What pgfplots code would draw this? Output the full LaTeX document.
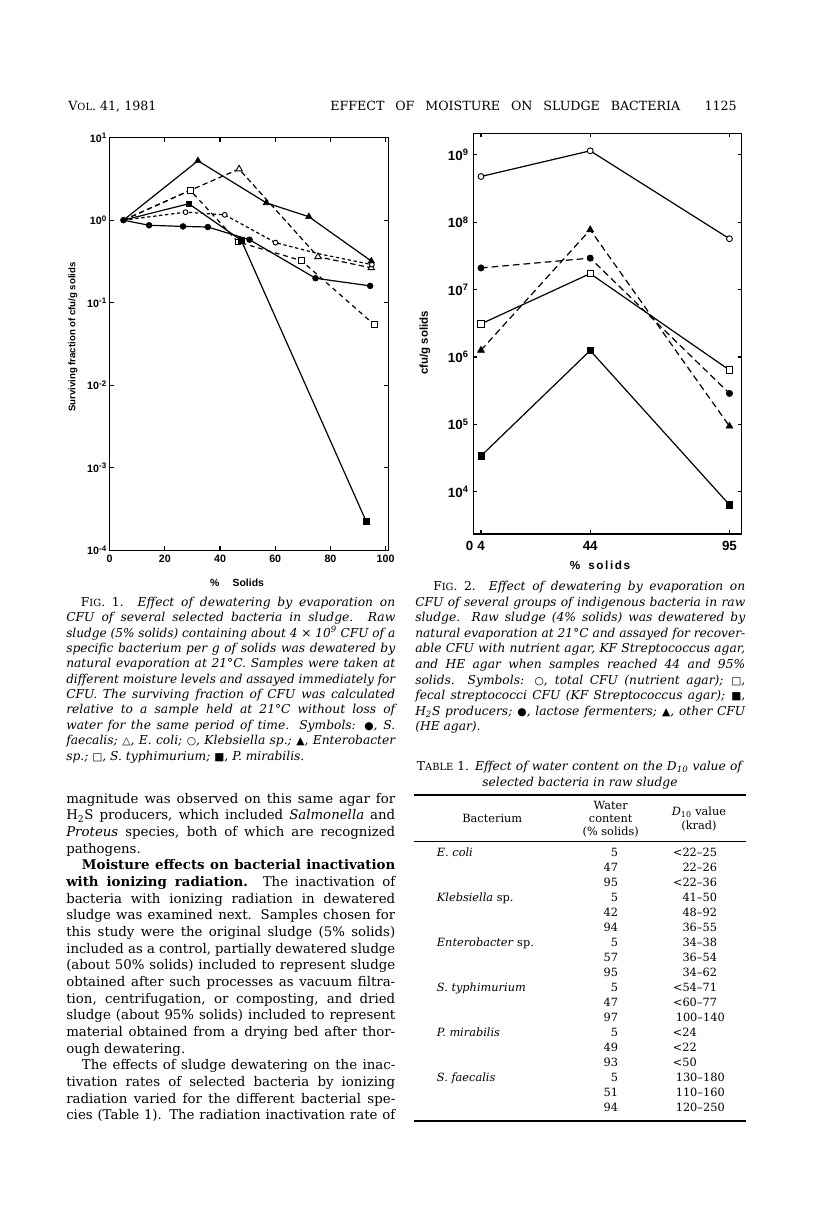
\documentclass[border=0pt]{standalone}
\usepackage{fontspec}
\setmainfont{DejaVu Serif}
\newfontfamily\axfont{Liberation Sans}
\newfontfamily\symfont{DejaVu Sans}
\usepackage{graphicx}
\usepackage{pgfplots}
\pgfplotsset{compat=1.18}

\newsavebox\lbox
\newcommand\jl[2]{\sbox\lbox{#2}\ifdim\wd\lbox>#1\relax\pgfmathparse{(#1)/(\the\wd\lbox)}\scalebox{\pgfmathresult}[1]{\usebox\lbox}\else\makebox[#1][s]{#2}\fi}
\newcommand\sym[1]{{\symfont\upshape\fontsize{8}{8}\selectfont #1}}
\newcommand\cf{\fontsize{9.2}{11}\selectfont\itshape}
\newcommand\bodyf{\fontsize{10}{12}\selectfont}
\newcommand\hdr{\fontsize{9.5}{11}\selectfont}
\newcommand\tabf{\fontsize{8.5}{10}\selectfont}
\newcommand\smc[1]{{\fontsize{7.4}{9}\selectfont #1}}

\pgfplotsset{
  myax/.style={
    scale only axis, anchor=south west,
    axis line style={line width=1.1pt},
    tick style={line width=0.8pt,black},
    tick align=inside, major tick length=3pt,
    yminorticks=false, xminorticks=false,
    clip=false,
  },
  sl/.style={black, line width=0.9pt},
  ds/.style={black, line width=0.9pt, dash pattern=on 4pt off 2.5pt},
}

\begin{document}
\begin{tikzpicture}
\path[use as bounding box] (0,0) rectangle (612pt,-908.25pt);
\begin{scope}[x=0.75pt,y=-0.75pt]
% header
\node[anchor=base west,inner sep=0pt,font=\hdr] at (68,110) {V\smc{OL}. 41, 1981};
\node[anchor=base west,inner sep=0pt,font=\hdr] at (330,110) {\jl{262.5pt}{EFFECT OF MOISTURE ON SLUDGE BACTERIA}};
\node[anchor=base east,inner sep=0pt,font=\hdr] at (737,110) {1125};

% fig 1 labels
\node[rotate=90,font=\axfont\bfseries\fontsize{7.2}{7}\selectfont] at (73,337) {Surviving fraction of cfu/g solids};
\node[font=\axfont\bfseries\fontsize{7.8}{8}\selectfont] at (237,583) {\%\hspace{10pt}Solids};
% fig 2 labels
\node[rotate=90,font=\axfont\bfseries\fontsize{8.6}{9}\selectfont] at (425,343) {cfu/g solids};
\node[font=\axfont\bfseries\fontsize{8.8}{9}\selectfont] at (600,565) {\%\hspace{6pt}s\hspace{1.2pt}o\hspace{1.2pt}l\hspace{1.2pt}i\hspace{1.2pt}d\hspace{1.2pt}s};

% fig 1 caption
\begin{scope}[every node/.style={anchor=base west,inner sep=0pt,font=\cf}]
\node at (80.7,606.3) {\jl{235.7pt}{{\upshape F\smc{IG}. 1.} Effect of dewatering by evaporation on}};
\node at (66,621.7) {\jl{246.75pt}{CFU of several selected bacteria in sludge. Raw}};
\node at (66,637.1) {\jl{246.75pt}{sludge (5\% solids) containing about 4 × 10\textsuperscript{9} CFU of a}};
\node at (66,652.4) {\jl{246.75pt}{specific bacterium per g of solids was dewatered by}};
\node at (66,667.8) {\jl{246.75pt}{natural evaporation at 21°C. Samples were taken at}};
\node at (66,683.2) {\jl{246.75pt}{different moisture levels and assayed immediately for}};
\node at (66,698.5) {\jl{246.75pt}{CFU. The surviving fraction of CFU was calculated}};
\node at (66,713.9) {\jl{246.75pt}{relative to a sample held at 21°C without loss of}};
\node at (66,729.3) {\jl{246.75pt}{water for the same period of time. Symbols: \sym{●}, S.}};
\node at (66,744.6) {\jl{246.75pt}{faecalis; \sym{△}, E. coli; \sym{○}, Klebsiella sp.; \sym{▲}, Enterobacter}};
\node at (66,760.0) {sp.; \sym{□}, S. typhimurium; \sym{■}, P. mirabilis.};
% fig 2 caption
\node at (433,590.7) {\jl{234pt}{{\upshape F\smc{IG}. 2.} Effect of dewatering by evaporation on}};
\node at (415,606.3) {\jl{247.5pt}{CFU of several groups of indigenous bacteria in raw}};
\node at (415,621.8) {\jl{247.5pt}{sludge. Raw sludge (4\% solids) was dewatered by}};
\node at (415,637.4) {\jl{247.5pt}{natural evaporation at 21°C and assayed for recover-}};
\node at (415,652.9) {\jl{247.5pt}{able CFU with nutrient agar, KF Streptococcus agar,}};
\node at (415,668.5) {\jl{247.5pt}{and HE agar when samples reached 44 and 95\%}};
\node at (415,684.1) {\jl{247.5pt}{solids. Symbols: \sym{○}, total CFU (nutrient agar); \sym{□},}};
\node at (415,699.6) {\jl{247.5pt}{fecal streptococci CFU (KF Streptococcus agar); \sym{■},}};
\node at (415,715.2) {\jl{247.5pt}{H\textsubscript{2}S producers; \sym{●}, lactose fermenters; \sym{▲}, other CFU}};
\node at (415,730.7) {(HE agar).};
% table title
\node at (416.7,770.7) {\jl{243.75pt}{{\upshape T\smc{ABLE} 1.} Effect of water content on the D\textsubscript{10} value of}};
\node[anchor=base] at (580,786.3) {selected bacteria in raw sludge};
\end{scope}

% table
\draw[line width=1.2pt] (414,795) -- (745.7,795);
\draw[line width=0.8pt] (414,841.7) -- (745.7,841.7);
\draw[line width=1.2pt] (414,1121) -- (745.7,1121);
\begin{scope}[every node/.style={inner sep=0pt,font=\tabf}]
\node[anchor=base] at (492.3,822.3) {Bacterium};
\node[anchor=base] at (610.7,809) {Water};
\node[anchor=base] at (610.7,822.3) {content};
\node[anchor=base] at (610.7,835.7) {(\% solids)};
\node[anchor=base] at (699,815.7) {\textit{D}\textsubscript{10} value};
\node[anchor=base] at (699,829) {(krad)};
% names
\node[anchor=base west] at (436.7,856.7) {\textit{E. coli}};
\node[anchor=base west] at (436.7,901.7) {\textit{Klebsiella} sp.};
\node[anchor=base west] at (436.7,946.7) {\textit{Enterobacter} sp.};
\node[anchor=base west] at (436.7,991.7) {\textit{S. typhimurium}};
\node[anchor=base west] at (436.7,1036.7) {\textit{P. mirabilis}};
\node[anchor=base west] at (436.7,1081.7) {\textit{S. faecalis}};
% water content
\foreach \v [count=\i from 0] in {5,47,95,5,42,94,5,57,95,5,47,97,5,49,93,5,51,94}
  \node[anchor=base east] at (618.3,856.7+15*\i) {\v};
% D10 ranges
\foreach \v/\i in {<22--25/0,22--26/1,<22--36/2,41--50/3,48--92/4,36--55/5,34--38/6,36--54/7,34--62/8,<54--71/9,<60--77/10}
  \node[anchor=base east] at (717.3,856.7+15*\i) {\v};
\foreach \v/\i in {100--140/11,130--180/15,110--160/16,120--250/17}
  \node[anchor=base east] at (725,856.7+15*\i) {\v};
\foreach \v/\i in {<24/12,<22/13,<50/14}
  \node[anchor=base west] at (672.7,856.7+15*\i) {\v};
\end{scope}

% body text
\begin{scope}[every node/.style={anchor=base west,inner sep=0pt,font=\bodyf}]
\node at (66,803.3) {\jl{246.75pt}{magnitude was observed on this same agar for}};
\node at (66,819.95) {\jl{246.75pt}{H\textsubscript{2}S producers, which included \textit{Salmonella} and}};
\node at (66,836.6) {\jl{246.75pt}{\textit{Proteus} species, both of which are recognized}};
\node at (66,853.25) {pathogens.};
\node at (81.7,869.9) {\jl{235pt}{\bfseries Moisture effects on bacterial inactivation}};
\node at (66,886.55) {\jl{246.75pt}{\textbf{with ionizing radiation.} The inactivation of}};
\node at (66,903.2) {\jl{246.75pt}{bacteria with ionizing radiation in dewatered}};
\node at (66,919.85) {\jl{246.75pt}{sludge was examined next. Samples chosen for}};
\node at (66,936.5) {\jl{246.75pt}{this study were the original sludge (5\% solids)}};
\node at (66,953.15) {\jl{246.75pt}{included as a control, partially dewatered sludge}};
\node at (66,969.8) {\jl{246.75pt}{(about 50\% solids) included to represent sludge}};
\node at (66,986.45) {\jl{246.75pt}{obtained after such processes as vacuum filtra-}};
\node at (66,1003.1) {\jl{246.75pt}{tion, centrifugation, or composting, and dried}};
\node at (66,1019.75) {\jl{246.75pt}{sludge (about 95\% solids) included to represent}};
\node at (66,1036.4) {\jl{246.75pt}{material obtained from a drying bed after thor-}};
\node at (66,1053.05) {ough dewatering.};
\node at (81.7,1069.7) {\jl{235pt}{The effects of sludge dewatering on the inac-}};
\node at (66,1086.35) {\jl{246.75pt}{tivation rates of selected bacteria by ionizing}};
\node at (66,1103.0) {\jl{246.75pt}{radiation varied for the different bacterial spe-}};
\node at (66,1119.65) {\jl{246.75pt}{cies (Table 1). The radiation inactivation rate of}};
\end{scope}
\end{scope}

% ---------------- Fig 1 ----------------
\begin{axis}[myax, at={(82.2pt,-412.8pt)}, width=209.1pt, height=309.6pt,
  ymode=log, xmin=0, xmax=101, ymin=1e-4, ymax=10,
  xtick={0,20,40,60,80,100}, xticklabels={0,20,40,60,80,100},
  ytick={1e-4,1e-3,1e-2,1e-1,1,10},
  yticklabels={10\textsuperscript{-4},10\textsuperscript{-3},10\textsuperscript{-2},10\textsuperscript{-1},10\textsuperscript{0},10\textsuperscript{1}},
  tick label style={font=\axfont\bfseries\fontsize{8}{8}\selectfont},
  yticklabel style={xshift=1.5pt},
  ]
% lines
\addplot[sl] coordinates {(5,1.0) (14.3,0.867) (26.6,0.84) (35.6,0.826) (50.7,0.58) (74.6,0.198) (94.4,0.16)};
\addplot[ds] coordinates {(5,1.0) (29.2,2.3) (46.9,4.16) (75.5,0.36) (94.8,0.265)};
\addplot[black, line width=0.9pt, dash pattern=on 2.5pt off 2pt] coordinates {(5,1.0) (27.5,1.25) (41.7,1.16) (60.1,0.535) (76,0.39) (95,0.29)};
\addplot[sl] coordinates {(5,1.0) (32,5.24) (56.8,1.62) (72.2,1.10) (94.8,0.32)};
\addplot[black, line width=0.9pt, dash pattern=on 3.5pt off 3pt] coordinates {(5,1.0) (29.2,2.3) (46.5,0.545) (69.4,0.325) (95.8,0.0545)};
\addplot[sl] coordinates {(5,1.0) (28.7,1.58) (47.7,0.57) (93.0,2.23e-4)};
% marks
\addplot[only marks, mark=triangle*, mark size=2.8pt, mark options={fill=white,draw=black,line width=0.7pt}] coordinates {(46.9,4.16) (75.5,0.36) (94.8,0.265)};
\addplot[only marks, mark=*, mark size=1.8pt, mark options={fill=white,draw=black,line width=0.7pt}] coordinates {(27.5,1.25) (41.7,1.16) (60.1,0.535) (95,0.29)};
\addplot[only marks, mark=square*, mark size=2.2pt, mark options={fill=white,draw=black,line width=0.7pt}] coordinates {(29.2,2.3) (46.5,0.545) (69.4,0.325) (95.8,0.0545)};
\addplot[only marks, mark=triangle*, mark size=2.8pt, black] coordinates {(32,5.24) (56.8,1.62) (72.2,1.10) (94.8,0.32)};
\addplot[only marks, mark=square*, mark size=2.2pt, black] coordinates {(28.7,1.58) (47.7,0.57) (93.0,2.23e-4)};
\addplot[only marks, mark=*, mark size=2.2pt, black] coordinates {(5,1.0) (14.3,0.867) (26.6,0.84) (35.6,0.826) (50.7,0.58) (74.6,0.198) (94.4,0.16)};
\end{axis}

% ---------------- Fig 2 ----------------
\begin{axis}[myax, at={(355pt,-400.5pt)}, width=201.3pt, height=300.5pt,
  ymode=log, xmin=1.2, xmax=99.5, ymin=2360, ymax=2.09e9,
  xtick={4,44,95}, xticklabels={{\llap{0\hspace{3pt}}4},44,95},
  ytick={1e4,1e5,1e6,1e7,1e8,1e9},
  yticklabels={10\textsuperscript{4},10\textsuperscript{5},10\textsuperscript{6},10\textsuperscript{7},10\textsuperscript{8},10\textsuperscript{9}},
  tick label style={font=\axfont\bfseries\fontsize{10}{10}\selectfont},
  xticklabel style={yshift=-2pt},
  ]
\addplot[sl] coordinates {(4,4.78e8) (44,1.15e9) (95,5.7e7)};
\addplot[sl] coordinates {(4,3.1e6) (44,1.73e7) (95,6.4e5)};
\addplot[sl] coordinates {(4,3.4e4) (44,1.25e6) (95,6.4e3)};
\addplot[black, line width=0.9pt, dash pattern=on 5pt off 3pt] coordinates {(4,2.1e7) (44,2.94e7) (95,2.88e5)};
\addplot[black, line width=0.9pt, dash pattern=on 5pt off 3pt] coordinates {(4,1.26e6) (44,7.74e7) (95,9.4e4)};
\addplot[only marks, mark=*, mark size=2.2pt, mark options={fill=white,draw=black,line width=0.7pt}] coordinates {(4,4.78e8) (44,1.15e9) (95,5.7e7)};
\addplot[only marks, mark=square*, mark size=2.4pt, mark options={fill=white,draw=black,line width=0.7pt}] coordinates {(4,3.1e6) (44,1.73e7) (95,6.4e5)};
\addplot[only marks, mark=square*, mark size=2.4pt, black] coordinates {(4,3.4e4) (44,1.25e6) (95,6.4e3)};
\addplot[only marks, mark=*, mark size=2.4pt, black] coordinates {(4,2.1e7) (44,2.94e7) (95,2.88e5)};
\addplot[only marks, mark=triangle*, mark size=3pt, black] coordinates {(4,1.26e6) (44,7.74e7) (95,9.4e4)};
\end{axis}
\end{tikzpicture}
\end{document}
